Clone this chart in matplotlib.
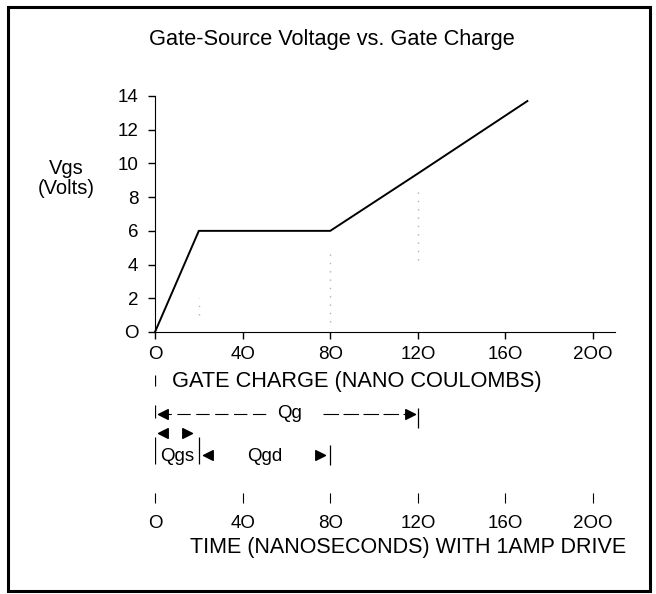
import matplotlib.pyplot as plt
from matplotlib.patches import Rectangle
from matplotlib.path import Path

plt.rcParams['font.family'] = ['Liberation Sans', 'DejaVu Sans']

# Curva Vgs frente a carga de puerta
charge = [0, 20, 80, 120, 170]
vgs = [0, 6, 6, 9.4, 13.7]

x_ticks = [0, 40, 80, 120, 160, 200]
x_labels = ['O', '4O', '8O', '12O', '16O', '2OO']
y_ticks = [0, 2, 4, 6, 8, 10, 12, 14]
y_labels = ['O', '2', '4', '6', '8', '10', '12', '14']

# Cargas de las cotas (nC)
qgs = 20
qgd_end = 80
qg = 120

# Guias punteadas tenues (x, y inicio, y fin)
guide_x = [20, 80, 120]
guide_y0 = [1.0, 0.6, 4.3]
guide_y1 = [2.0, 5.0, 8.5]

W, H = 656, 594


def px_rect(l, t, r, b):
    return [l / W, 1 - b / H, (r - l) / W, (b - t) / H]


fig = plt.figure(figsize=(W / 100, H / 100), dpi=100)

# marco exterior
fig.patches.append(Rectangle((8 / W, 1 - 591 / H), 642 / W, 584 / H,
                             transform=fig.transFigure, fill=False,
                             edgecolor='k', lw=2.2))

ax = fig.add_axes(px_rect(155, 96, 615, 332))
ax.plot(charge, vgs, color='k', lw=1.4, clip_on=False)
ax.vlines(guide_x, guide_y0, guide_y1, colors='0.7',
          linestyles=(0, (1, 5)), lw=1)
ax.set_xlim(0, 210)
ax.set_ylim(0, 14)
ax.set_xticks(x_ticks)
ax.set_xticklabels(x_labels)
ax.set_yticks(y_ticks)
ax.set_yticklabels(y_labels)
ax.spines[['top', 'right']].set_visible(False)
ax.tick_params(direction='out', length=5, width=1, labelsize=13.5)
ax.tick_params(axis='y', pad=7)
ax.tick_params(axis='x', pad=5)

# eje de tiempo (1 A de excitacion -> 1 ns por nC)
tax = fig.add_axes(px_rect(155, 492, 615, 493))
tax.set_xlim(0, 210)
tax.set_yticks([])
for s in tax.spines.values():
    s.set_visible(False)
tax.set_xticks(x_ticks)
tax.set_xticklabels(x_labels)
tax.tick_params(axis='x', direction='out', length=7.5, width=0.8,
                labelsize=13.5, pad=8)
tax.patch.set_alpha(0)

# textos
fig.text(332 / W, 1 - 40 / H, 'Gate-Source Voltage vs. Gate Charge',
         ha='center', va='center', fontsize=15.7)
fig.text(66 / W, 1 - 168 / H, 'Vgs', ha='center', va='center', fontsize=14.5)
fig.text(66 / W, 1 - 189 / H, '(Volts)', ha='center', va='center', fontsize=14.5)
fig.text(357 / W, 1 - 382 / H, 'GATE CHARGE (NANO COULOMBS)',
         ha='center', va='center', fontsize=15.7)
fig.text(408 / W, 1 - 547 / H, 'TIME (NANOSECONDS) WITH 1AMP DRIVE',
         ha='center', va='center', fontsize=15.5)

# cotas Qg, Qgs, Qgd (y en pixeles de la figura)
dax = fig.add_axes(px_rect(155, 360, 615, 480))
dax.set_xlim(0, 210)
dax.set_ylim(480, 360)
dax.axis('off')

left_tip = Path([(0, 0), (1, 0.5), (1, -0.5), (0, 0)],
                [Path.MOVETO, Path.LINETO, Path.LINETO, Path.CLOSEPOLY])
right_tip = Path([(0, 0), (-1, 0.5), (-1, -0.5), (0, 0)],
                 [Path.MOVETO, Path.LINETO, Path.LINETO, Path.CLOSEPOLY])
gap = 1.5
ms = 14

bar_kw = dict(colors='k', lw=0.9)
dax.vlines([0], 375, 386, **bar_kw)
dax.vlines([0], 405, 418, **bar_kw)
dax.vlines([qg], 408, 428, **bar_kw)
dax.vlines([0, qgs], 437, 464, **bar_kw)
dax.vlines([qgd_end], 445, 465, **bar_kw)

# Qg
dax.plot([gap, qg * 0.43], [414, 414], color='k', lw=0.8, dashes=(12, 5))
dax.plot([qg * 0.64, qg - gap], [414, 414], color='k', lw=0.8, dashes=(14, 4))
dax.plot(gap, 414, marker=left_tip, ms=ms, color='k')
dax.plot(qg - gap, 414, marker=right_tip, ms=ms, color='k')
dax.text(qg / 2 + 1.5, 414, 'Qg', ha='center', va='center', fontsize=13.5)

# Qgs
dax.plot(gap, 433, marker=left_tip, ms=ms, color='k')
dax.plot(qgs - 3, 433, marker=right_tip, ms=ms, color='k')
dax.text(qgs / 2, 457, 'Qgs', ha='center', va='center', fontsize=13.5)

# Qgd
dax.plot(qgs + 2, 455, marker=left_tip, ms=ms, color='k')
dax.plot(qgd_end - 2.5, 455, marker=right_tip, ms=ms, color='k')
dax.text((qgs + qgd_end) / 2, 457, 'Qgd', ha='center', va='center', fontsize=13.5)

fig.savefig('out.png', dpi=100)
